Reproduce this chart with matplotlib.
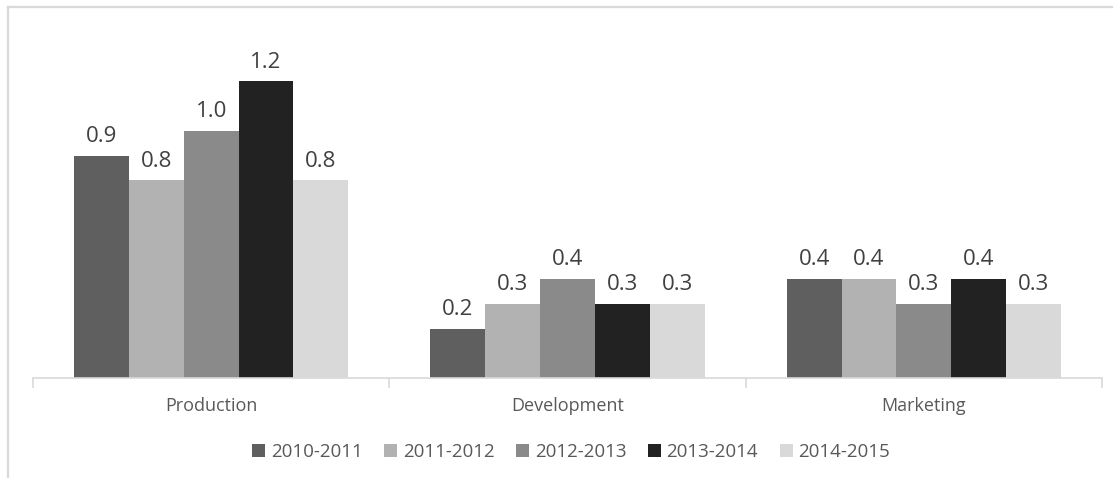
import numpy as np
import matplotlib
matplotlib.use("Agg")
import matplotlib.pyplot as plt
from matplotlib.patches import Patch
from matplotlib.lines import Line2D

plt.rcParams['font.family'] = ['Open Sans', 'DejaVu Sans']

categories = ['Production', 'Development', 'Marketing']
periods = ['2010-2011', '2011-2012', '2012-2013', '2013-2014', '2014-2015']
values = {
    '2010-2011': [0.9, 0.2, 0.4],
    '2011-2012': [0.8, 0.3, 0.4],
    '2012-2013': [1.0, 0.4, 0.3],
    '2013-2014': [1.2, 0.3, 0.4],
    '2014-2015': [0.8, 0.3, 0.3],
}
colors = ['#5f5f5f', '#b2b2b2', '#8a8a8a', '#222222', '#d9d9d9']

W, H = 1113, 478
fig = plt.figure(figsize=(W / 100, H / 100), dpi=100)
# plot area: baseline at y=378 px, 1.4 at y=32 px
ax = fig.add_axes([33 / W, (H - 378) / H, (1102 - 33) / W, 346 / H])

x = np.arange(len(categories))
bw = 0.154
for i, p in enumerate(periods):
    xs = x + (i - 2) * bw
    bars = ax.bar(xs, values[p], width=bw, color=colors[i], edgecolor='none')
    for xi, v in zip(xs, values[p]):
        ax.text(xi, v + 0.035, f'{v:.1f}', ha='center', va='bottom',
                fontsize=16, color='#404040')

ax.set_xlim(-0.5, len(categories) - 0.5)
ax.set_ylim(0, 1.4)
ax.set_yticks([])
for s in ['top', 'right', 'left']:
    ax.spines[s].set_visible(False)
ax.spines['bottom'].set_color('#d9d9d9')
ax.spines['bottom'].set_linewidth(1.2)

ax.set_xticks(x)
ax.set_xticklabels(categories, fontsize=13, color='#595959')
ax.tick_params(axis='x', which='major', length=0, pad=14)
ax.set_xticks(np.arange(-0.5, len(categories)), minor=True)
ax.tick_params(axis='x', which='minor', length=7, color='#d9d9d9', width=1.2)

handles = [Patch(facecolor=c, edgecolor='none') for c in colors]
fig.legend(handles, periods, loc='center', bbox_to_anchor=(571 / W, (H - 452) / H),
           ncol=5, frameon=False, fontsize=13.5, handlelength=0.7, handleheight=0.7,
           handletextpad=0.3, columnspacing=1.15, labelcolor='#595959')

# outer chart border (top and left edges)
fig.add_artist(Line2D([8 / W, 1], [1 - 7 / H, 1 - 7 / H], color='#d9d9d9', lw=1.6))
fig.add_artist(Line2D([8 / W, 8 / W], [0, 1 - 7 / H], color='#d9d9d9', lw=1.6))

fig.savefig('out.png', dpi=100)
